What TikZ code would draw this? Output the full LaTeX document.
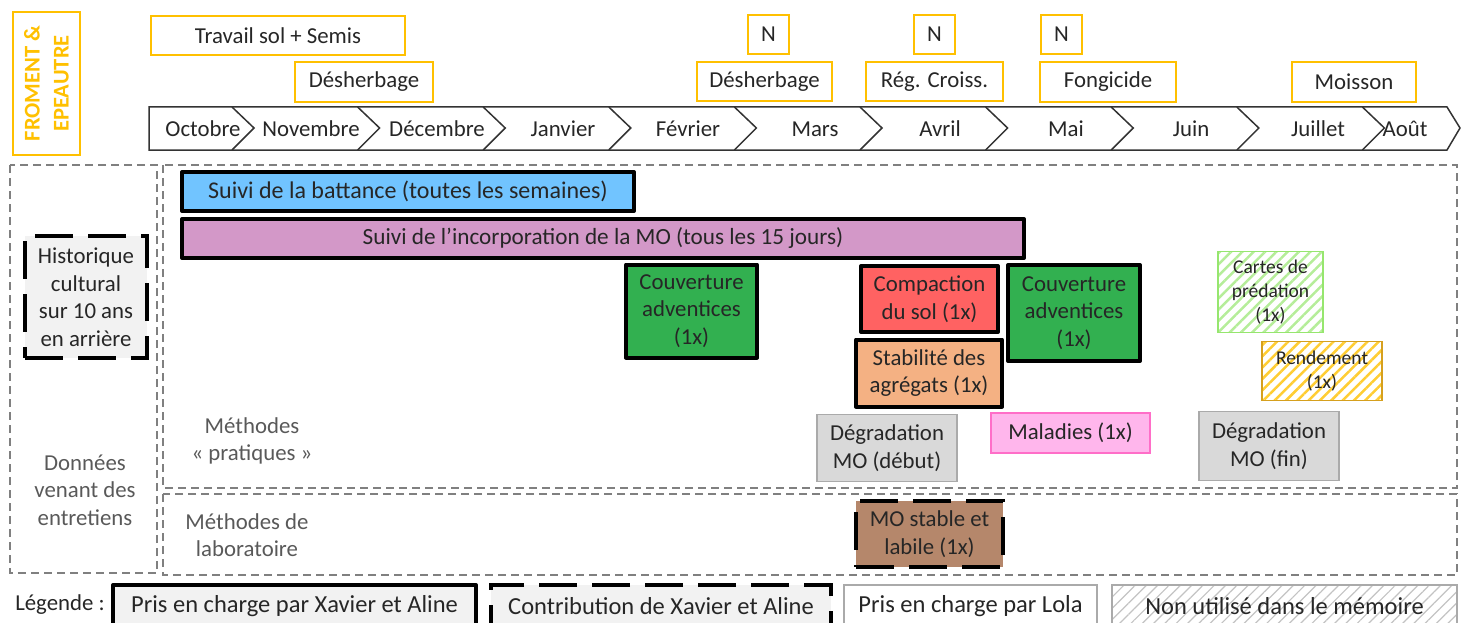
\documentclass[tikz,border=0pt]{standalone}
\usepackage{fontspec}
\setmainfont{Carlito}
\usetikzlibrary{patterns.meta}

\definecolor{opgold}{RGB}{255,192,0}
\definecolor{txtdark}{RGB}{38,38,38}
\definecolor{txtgray}{RGB}{89,89,89}
\definecolor{zonegray}{RGB}{128,128,128}
\definecolor{tlgray}{RGB}{51,51,51}
\definecolor{battblue}{RGB}{113,196,255}
\definecolor{incpink}{RGB}{211,152,200}
\definecolor{couvgreen}{RGB}{50,176,80}
\definecolor{compred}{RGB}{255,98,98}
\definecolor{stabor}{RGB}{244,177,131}
\definecolor{deggray}{RGB}{217,217,217}
\definecolor{lolagray}{RGB}{170,170,170}
\definecolor{malpink}{RGB}{255,182,236}
\definecolor{malborder}{RGB}{255,110,200}
\definecolor{mobrown}{RGB}{181,135,107}
\definecolor{histfill}{RGB}{242,242,242}
\definecolor{cartgreen}{RGB}{150,230,110}
\definecolor{rendgold}{RGB}{214,160,30}

\begin{document}
\begin{tikzpicture}[x=1pt,y=-1pt,
    every node/.style={font=\fontsize{22.8}{27.5}\selectfont,text=txtdark,align=center,inner sep=0pt},
    wh/.style 2 args={minimum width=#1pt,minimum height=#2pt},
    opbox/.style={draw=opgold,line width=1.5pt},
    xabox/.style={draw=black,line width=4pt,line join=round},
    xadash/.style={draw=black,line width=4pt,dash pattern=on 38pt off 15pt},
    lolabox/.style={draw=lolagray,line width=1.3pt},
    nubox/.style={line width=1.3pt,pattern={Lines[angle=45,distance=8pt,line width=2.5pt]}},
    zone/.style={draw=zonegray,line width=2pt,dash pattern=on 8pt off 5pt},
    tline/.style={draw=tlgray,line width=1.5pt,line join=miter},
    small/.style={font=\fontsize{19.5}{24}\selectfont},
    big/.style={font=\fontsize{24.5}{29}\selectfont}
    ]

        \useasboundingbox (0,0) rectangle (1461,623);

        % Titre
        \node[opbox,wh={67}{143}] (titlebox) at (46.5,83.5) {};
        \node[rotate=90,font=\fontsize{22.5}{29}\selectfont\bfseries,text=opgold] (title) at (titlebox) {FROMENT \&\\EPEAUTRE};

        % Interventions
        \node[opbox,wh={254}{39}] (semis) at (278,35.5) {Travail sol + Semis};
        \node[opbox,wh={138}{40}] (desh1) at (364,82) {Désherbage};
        \node[opbox,wh={135}{39}] (desh2) at (764.5,81.5) {Désherbage};
        \node[opbox,wh={137}{39}] (regcr) at (934.5,81.5) {Rég. Croiss.};
        \node[opbox,wh={136}{40}] (fongi) at (1108,82) {Fongicide};
        \node[opbox,wh={124}{40}] (moisson) at (1354,82) {Moisson};
        \node[opbox,wh={41}{39}] (n1) at (768.5,34.5) {N};
        \node[opbox,wh={41}{39}] (n2) at (934.5,34.5) {N};
        \node[opbox,wh={41}{39}] (n3) at (1061.5,34.5) {N};

        % Frise des mois
        \draw[tline] (149,107) -- (1447,107) -- (1460,128) -- (1447,150) -- (149,150) -- cycle;
        \foreach \i in {0,...,9} {
            \pgfmathsetmacro{\cx}{232+125.6*\i}
            \draw[tline] (\cx,107) -- (\cx+22,128) -- (\cx,150);
        }
        \foreach \m/\x/\nm in {Octobre/203/oct,Novembre/311/nov,Décembre/437/dec,Janvier/563/jan,Février/688/fev,Mars/815/mar,Avril/940/avr,Mai/1066/mai,Juin/1191/jun,Juillet/1318/jul,Août/1405/aou} {
            \node (\nm) at (\x,129) {\m};
        }

        % Zones
        \draw[zone] (10,165) rectangle (157,573);
        \draw[zone] (163,165) rectangle (1457,488);
        \draw[zone] (163,494) rectangle (1457,575);

        \node[text=txtgray] (donnees) at (85,490) {Données\\venant des\\entretiens};
        \node[text=txtgray] (pratiques) at (252,441) {Méthodes\\« pratiques »};
        \node[text=txtgray] (labo) at (247,535) {Méthodes de\\laboratoire};

        % Methodes
        \node[xadash,fill=histfill,wh={122}{122}] (histo) at (86,297) {Historique\\cultural\\sur 10 ans\\en arrière};
        \node[xabox,fill=battblue,wh={452}{39},font=\fontsize{24}{28}\selectfont] (battance) at (408,191.5) {Suivi de la battance (toutes les semaines)};
        \node[xabox,fill=incpink,wh={842}{39},font=\fontsize{23.2}{28}\selectfont] (incorp) at (603,238.5) {Suivi de l’incorporation de la MO (tous les 15 jours)};
        \node[xabox,fill=couvgreen,wh={131}{93}] (couv1) at (691.5,311) {Couverture\\adventices\\(1x)};
        \node[xabox,fill=compred,wh={137}{66}] (compac) at (929.5,299) {Compaction\\du sol (1x)};
        \node[xabox,fill=couvgreen,wh={132}{96}] (couv2) at (1074,313) {Couverture\\adventices\\(1x)};
        \node[xabox,fill=stabor,wh={146}{67}] (stabil) at (929,373) {Stabilité des\\agrégats (1x)};
        \node[nubox,draw=cartgreen,pattern color=cartgreen!70,wh={105}{81},small] (cartes) at (1270.5,292) {Cartes de\\prédation\\(1x)};
        \node[nubox,draw=rendgold,pattern color=opgold!80,wh={120}{59},small] (rendem) at (1322,371) {Rendement\\(1x)};
        \node[lolabox,fill=deggray,wh={140}{67}] (degdeb) at (887,448) {Dégradation\\MO (début)};
        \node[lolabox,draw=malborder,fill=malpink,wh={159}{40}] (maladies) at (1070.5,433) {Maladies (1x)};
        \node[lolabox,fill=deggray,wh={140}{69}] (degfin) at (1269,446) {Dégradation\\MO (fin)};
        \node[xadash,fill=mobrown,wh={147}{66}] (mostable) at (929.5,534) {MO stable et\\labile (1x)};

        % Legende
        \node (legende) at (60,605) {Légende :};
        \node[xabox,fill=histfill,wh={363}{42},big] (leg1) at (294.5,606) {Pris en charge par Xavier et Aline};
        \node[xadash,fill=histfill,wh={340}{42},big] (leg2) at (661,606) {Contribution de Xavier et Aline};
        \node[lolabox,fill=white,wh={253}{42},big] (leg3) at (970.5,606) {Pris en charge par Lola};
        \node[draw=lolagray,line width=1.3pt,pattern={Lines[angle=45,distance=8pt,line width=1.2pt]},pattern color=lolagray!70,wh={345}{42},big] (leg4) at (1284.5,606) {Non utilisé dans le mémoire};

\end{tikzpicture}
\end{document}
